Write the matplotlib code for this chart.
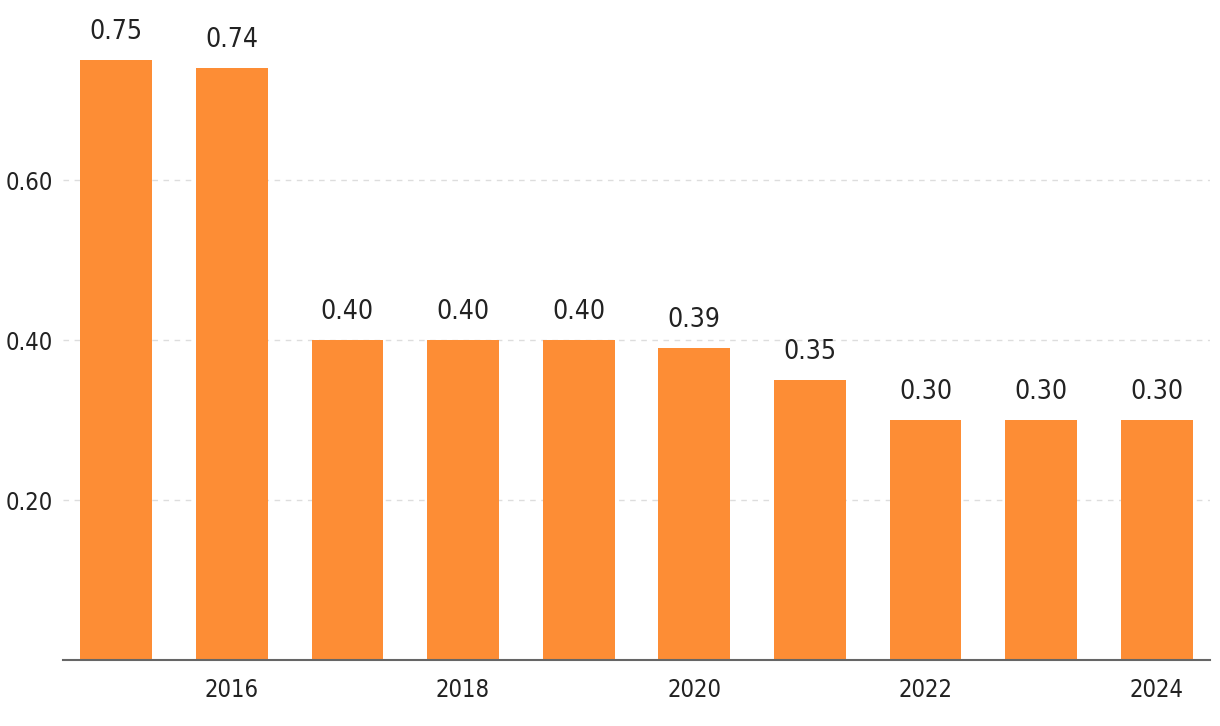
import matplotlib.pyplot as plt
from matplotlib import font_manager

years = [2015, 2016, 2017, 2018, 2019, 2020, 2021, 2022, 2023, 2024]
values = [0.75, 0.74, 0.40, 0.40, 0.40, 0.39, 0.35, 0.30, 0.30, 0.30]
yticks = [0.20, 0.40, 0.60]

# look for a narrow / condensed face, else plain DejaVu
condensed = None
for f in font_manager.fontManager.ttflist:
    if ('Narrow' in f.fname or 'Condensed' in f.fname) and 'Bold' not in f.fname and 'Oblique' not in f.fname and 'Italic' not in f.fname:
        condensed = f
        break

if condensed is not None:
    font_manager.fontManager.addfont(condensed.fname)
    plt.rcParams['font.family'] = [condensed.name, 'DejaVu Sans']
    plt.rcParams['font.stretch'] = condensed.stretch
    lab_size, tick_size = 19, 17
else:
    plt.rcParams['font.family'] = ['DejaVu Sans']
    lab_size, tick_size = 16, 14

fig = plt.figure(figsize=(12.2, 7.26), dpi=100)
ax = fig.add_axes([63 / 1220, 66 / 726, 1147 / 1220, 660 / 726])

x = list(range(len(years)))
ax.bar(x, values, width=0.62, color='#fd8d35', zorder=2)
for xi, v in zip(x, values):
    ax.text(xi, v + 0.019, "%.2f" % v, ha='center', va='bottom', fontsize=lab_size, color='#222222')

ax.set_xlim(-0.46, 9.46)
ax.set_ylim(0, 0.825)
ax.set_yticks(yticks)
ax.set_yticklabels(["%.2f" % t for t in yticks])
ax.set_xticks([i for i, y in enumerate(years) if y % 2 == 0])
ax.set_xticklabels([str(y) for y in years if y % 2 == 0])
ax.tick_params(axis='both', length=0, labelsize=tick_size, colors='#222222')
ax.tick_params(axis='x', pad=13)
ax.tick_params(axis='y', pad=7)
ax.grid(axis='y', linestyle=(0, (4, 4)), color='#dddddd', linewidth=1, zorder=0)
for s in ['top', 'right', 'left']:
    ax.spines[s].set_visible(False)
ax.spines['bottom'].set_color('#666666')
ax.spines['bottom'].set_linewidth(1.5)

fig.savefig('out.png', dpi=100)
